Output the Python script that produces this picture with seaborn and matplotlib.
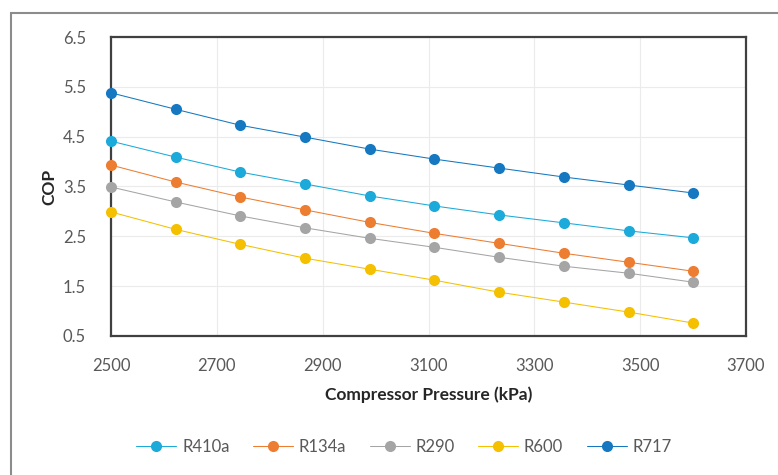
import matplotlib
matplotlib.use("Agg")
import matplotlib.pyplot as plt
import seaborn as sns
import pandas as pd
from matplotlib.patches import Rectangle

pressure = [2500, 2622, 2744, 2867, 2989, 3111, 3233, 3356, 3478, 3600]
r410a = [4.41, 4.09, 3.79, 3.55, 3.31, 3.11, 2.93, 2.77, 2.61, 2.47]
r134a = [3.93, 3.59, 3.29, 3.03, 2.78, 2.56, 2.36, 2.16, 1.98, 1.80]
r290 = [3.49, 3.19, 2.91, 2.67, 2.46, 2.28, 2.08, 1.90, 1.76, 1.58]
r600 = [2.99, 2.64, 2.34, 2.06, 1.84, 1.62, 1.38, 1.18, 0.98, 0.76]
r717 = [5.38, 5.05, 4.73, 4.49, 4.25, 4.05, 3.87, 3.69, 3.53, 3.37]

series_names = ["R410a", "R134a", "R290", "R600", "R717"]
series_values = [r410a, r134a, r290, r600, r717]
colors = ["#1BAADA", "#ED7D31", "#A5A5A5", "#F5C000", "#1578C0"]

x_ticks = [2500, 2700, 2900, 3100, 3300, 3500, 3700]
y_ticks = [0.5, 1.5, 2.5, 3.5, 4.5, 5.5, 6.5]

rows = []
for name, vals in zip(series_names, series_values):
    for p, v in zip(pressure, vals):
        rows.append({"Pressure": p, "COP": v, "Refrigerant": name})
df = pd.DataFrame(rows)

sns.set_style("white")
plt.rcParams["font.family"] = ["Lato", "DejaVu Sans"]

W, H = 778, 475
fig = plt.figure(figsize=(W / 100, H / 100), dpi=100)
fig.patch.set_facecolor("white")

# outer chart border
fig.patches.append(Rectangle((11 / W, -0.05), 1.1, 1 - 13 / H + 0.05,
                             transform=fig.transFigure, fill=False,
                             edgecolor="#8C8C8C", linewidth=1.5, zorder=0))

left, right, top, bottom = 111, 746, 37, 336
ax = fig.add_axes([left / W, 1 - bottom / H, (right - left) / W, (bottom - top) / H])

sns.lineplot(data=df, x="Pressure", y="COP", hue="Refrigerant",
             hue_order=series_names, palette=colors, marker="o",
             markersize=8, markeredgewidth=0, linewidth=0.75, ax=ax,
             legend=True, clip_on=False, zorder=3)

ax.set_xlim(2500, 3700)
ax.set_ylim(0.5, 6.5)
ax.set_xticks(x_ticks)
ax.set_yticks(y_ticks)
ax.set_xticklabels([str(t) for t in x_ticks])
ax.set_yticklabels([f"{t:.1f}" for t in y_ticks])
ax.tick_params(axis="both", length=0, labelsize=12, labelcolor="#595959")
ax.tick_params(axis="x", pad=16)
ax.tick_params(axis="y", pad=18)
ax.grid(True, color="#EBEBEB", linewidth=0.8)
ax.set_axisbelow(True)
for s in ax.spines.values():
    s.set_visible(True)
    s.set_color("#404040")
    s.set_linewidth(1.6)

ax.set_xlabel("Compressor Pressure (kPa)", fontsize=12.5, fontweight="bold",
              color="#262626", labelpad=9)
ax.set_ylabel("COP", fontsize=12.5, fontweight="bold", color="#262626", labelpad=4)

handles, labels = ax.get_legend_handles_labels()
leg = ax.legend(handles, labels, loc="center", bbox_to_anchor=(404 / W, 1 - 447 / H),
                bbox_transform=fig.transFigure, ncol=5, frameon=False,
                fontsize=12, handlelength=2.4, columnspacing=1.4, handletextpad=0.35)
for t in leg.get_texts():
    t.set_color("#595959")

fig.savefig("out.png", dpi=100)
